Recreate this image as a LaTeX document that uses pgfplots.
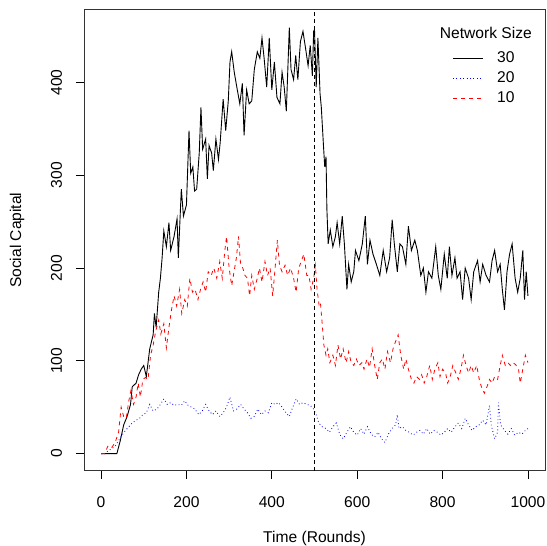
\documentclass[border=0pt]{standalone}
\usepackage{fontspec}
\setmainfont{Liberation Sans}
\usepackage{pgfplots}
\pgfplotsset{compat=1.18}
\newcommand{\fs}{\fontsize{15.6}{18.7}\selectfont}
\begin{document}
\begin{tikzpicture}
\path[use as bounding box] (-84pt,-75.3pt) rectangle (462pt,470.7pt);
\begin{axis}[
  at={(0pt,0pt)}, anchor=south west,
  scale only axis, width=461pt, height=461pt,
  xmin=-40, xmax=1040, ymin=-18.4, ymax=478.4,
  xtick={0,200,400,600,800,1000},
  ytick={0,100,200,300,400},
  xtick pos=bottom, ytick pos=left,
  tick align=outside, major tick length=8pt,
  tick style={black, line width=0.8pt},
  axis line style={line width=0.8pt, black!80},
  /pgf/number format/assume math mode=true,
  /pgf/number format/1000 sep={},
  font=\fs,
  xticklabel style={font=\fs, yshift=-14pt},
  yticklabel style={font=\fs, xshift=-10.5pt, rotate=90, anchor=south},
  xlabel={Time (Rounds)}, ylabel={Social Capital},
  xlabel style={font=\fs, at={(axis description cs:0.5,-0.1475)}, anchor=center},
  ylabel style={font=\fs, at={(axis description cs:-0.1453,0.5)}, anchor=center, rotate=0},
  legend image code/.code={\draw[#1] (0pt,0pt) -- (29.6pt,0pt);},
  legend style={fill=none, draw=none, inner sep=0pt, outer sep=0pt,
    at={(axis description cs:0.7996,0.9084)}, anchor=north west,
    nodes={inner sep=0pt, font=\fs}, column sep=14pt, row sep=7.6pt},
  legend cell align=left,
]
\addplot[draw=black, line width=0.9pt] coordinates {
(0,0)(10,0)(20,0)(30,0)(37,0)(45,14)(53,31)(61,40)(69,53)(73,72)(82,76)(88,85)(94,91)(100,95)(106,83)(114,113)(122,128)(125,151)(129,136)(135,174)(139,189)(143,211)(147,240)(153,223)(159,249)(163,219)(171,234)(178,253)(181,211)(188,285)(193,256)(200,268)(206,348)(210,302)(215,309)(219,283)(224,285)(230,324)(234,373)(238,328)(245,339)(249,296)(253,332)(259,324)(263,305)(269,339)(275,317)(279,335)(286,382)(292,348)(298,380)(302,422)(306,433)(312,411)(318,395)(325,377)(331,399)(335,343)(341,392)(347,377)(353,380)(359,414)(366,433)(372,426)(377,448)(382,426)(388,395)(394,448)(400,392)(406,422)(412,384)(419,377)(424,411)(429,395)(434,369)(441,459)(445,414)(451,403)(456,429)(461,403)(467,444)(473,455)(479,437)(485,418)(490,440)(495,407)(498,455)(500,457)(504,395)(508,448)(513,388)(516,373)(521,332)(524,309)(527,320)(529,264)(532,226)(537,241)(543,223)(549,234)(553,249)(559,226)(565,256)(570,226)(576,177)(580,204)(586,185)(592,196)(596,219)(604,208)(612,226)(619,256)(624,204)(630,230)(637,215)(645,204)(653,192)(661,219)(669,196)(676,211)(682,252)(687,226)(694,196)(700,226)(706,223)(714,204)(720,245)(727,219)(735,230)(741,219)(749,192)(755,200)(761,174)(767,196)(775,189)(784,223)(790,192)(796,177)(804,215)(811,189)(816,223)(822,192)(829,211)(834,189)(841,196)(847,166)(853,200)(861,189)(867,166)(873,196)(882,208)(888,185)(894,204)(902,192)(910,185)(916,208)(922,219)(929,196)(935,204)(940,177)(945,155)(951,196)(957,215)(963,226)(970,189)(976,174)(982,189)(988,219)(992,166)(996,196)(1000,170)
};
\addlegendentry{30}
\addplot[draw=blue, line width=0.8pt, dash pattern=on 0.8pt off 2.6pt] coordinates {
(0,0)(10,0)(16,3)(24,5)(33,8)(41,14)(49,20)(57,25)(65,29)(73,33)(82,36)(90,38)(98,42)(106,44)(114,53)(122,46)(131,48)(139,53)(147,59)(155,53)(163,55)(171,52)(180,53)(188,52)(196,57)(204,52)(212,50)(220,48)(229,42)(237,46)(245,53)(253,46)(261,42)(269,46)(278,40)(286,44)(294,50)(302,61)(310,46)(318,48)(327,53)(335,48)(343,44)(351,38)(359,40)(367,48)(376,42)(384,46)(392,44)(400,55)(408,53)(416,55)(424,50)(433,44)(441,40)(449,50)(457,59)(465,53)(473,55)(482,53)(490,52)(498,48)(504,42)(510,33)(518,29)(527,27)(535,23)(543,29)(551,33)(559,21)(567,16)(576,23)(584,29)(592,23)(600,20)(608,27)(616,21)(624,29)(633,21)(641,18)(649,23)(657,16)(665,12)(673,21)(682,27)(690,31)(694,42)(698,27)(706,29)(714,25)(722,23)(731,20)(739,23)(747,25)(755,21)(763,27)(771,21)(780,25)(788,23)(796,20)(804,23)(812,27)(820,23)(829,29)(837,33)(845,27)(853,38)(861,31)(869,25)(878,29)(886,31)(894,36)(902,31)(910,52)(914,31)(922,16)(929,23)(931,55)(936,31)(945,25)(953,21)(961,27)(969,20)(978,23)(986,21)(994,25)(1000,27)
};
\addlegendentry{20}
\addplot[draw=red, line width=0.8pt, dash pattern=on 4pt off 4pt] coordinates {
(0,0)(8,0)(16,8)(24,6)(33,12)(41,23)(47,50)(53,40)(59,38)(65,57)(70,68)(76,53)(82,61)(87,76)(92,61)(98,80)(104,82)(110,80)(116,106)(122,117)(128,132)(135,144)(140,129)(147,140)(153,114)(159,136)(165,155)(171,170)(177,159)(184,177)(189,151)(196,166)(202,159)(208,189)(214,174)(220,177)(227,166)(233,177)(239,185)(245,174)(251,196)(258,192)(264,200)(271,189)(278,207)(284,189)(290,219)(294,234)(300,200)(306,181)(310,192)(317,211)(322,234)(327,203)(332,200)(337,192)(343,189)(348,170)(353,192)(359,177)(366,189)(371,200)(377,185)(384,207)(390,192)(396,200)(402,170)(407,196)(413,230)(418,203)(424,196)(431,203)(437,192)(444,200)(451,189)(457,174)(463,200)(469,207)(475,215)(482,192)(487,192)(492,177)(498,189)(502,203)(506,177)(511,159)(514,162)(518,140)(522,117)(527,106)(531,113)(536,98)(543,106)(549,95)(555,117)(561,102)(567,113)(574,98)(580,110)(586,98)(592,95)(598,102)(604,95)(611,98)(616,91)(623,102)(629,93)(635,113)(641,95)(647,80)(653,98)(659,102)(665,91)(671,110)(678,98)(684,113)(690,121)(696,128)(702,106)(709,91)(714,102)(720,91)(727,80)(733,76)(739,83)(746,80)(751,85)(757,76)(763,83)(770,95)(776,80)(782,91)(789,98)(794,83)(800,91)(807,87)(812,76)(818,83)(824,95)(831,87)(837,80)(843,91)(849,106)(855,95)(861,87)(867,95)(873,87)(880,95)(886,80)(891,72)(898,65)(904,72)(910,80)(916,76)(922,83)(929,80)(935,95)(940,106)(947,95)(953,98)(959,95)(965,98)(971,96)(978,91)(982,76)(988,91)(994,106)(1000,98)
};
\addlegendentry{10}
\addplot[draw=black, line width=0.8pt, dash pattern=on 3.5pt off 3.5pt, forget plot] coordinates {(500,-18.4) (500,478.4)};
\node[anchor=base east, font=\fs, inner sep=0pt] at (rel axis cs:0.9718,0.9373) {Network Size};
\end{axis}
\end{tikzpicture}
\end{document}
